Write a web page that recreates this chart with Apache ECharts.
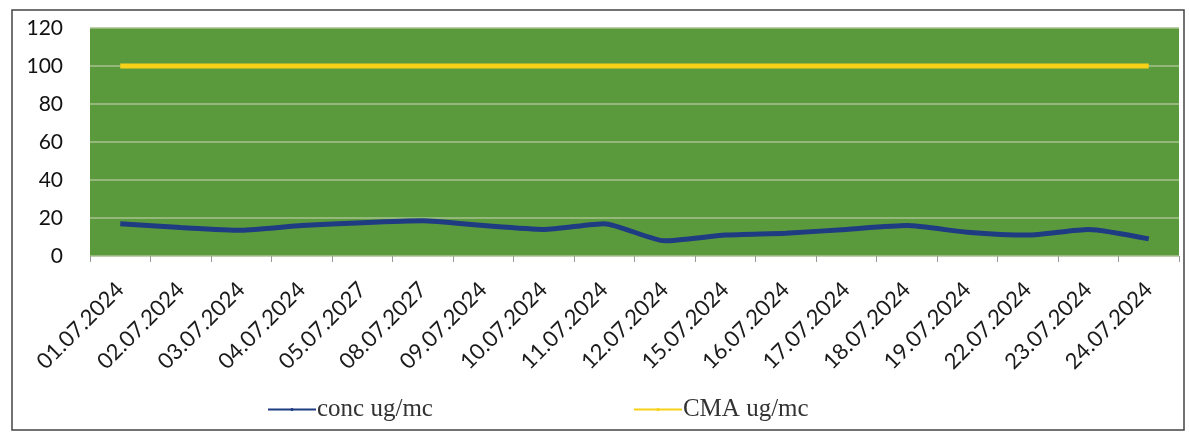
<!DOCTYPE html>
<html>
<head>
<meta charset="utf-8">
<script src="https://cdn.jsdelivr.net/npm/echarts@6/dist/echarts.min.js"></script>
<style>
html, body { margin: 0; padding: 0; background: #fff; }
#main { width: 1189px; height: 436px; }
</style>
</head>
<body>
<div id="main"></div>
<script>
var dates = ['01.07.2024', '02.07.2024', '03.07.2024', '04.07.2024', '05.07.2027', '08.07.2027',
    '09.07.2024', '10.07.2024', '11.07.2024', '12.07.2024', '15.07.2024', '16.07.2024',
    '17.07.2024', '18.07.2024', '19.07.2024', '22.07.2024', '23.07.2024', '24.07.2024'];
var conc = [17, 15, 13.5, 16, 17.5, 18.5, 16, 14, 17, 8, 11, 12, 14, 16, 12.5, 11, 14, 9];
var cma = [100, 100, 100, 100, 100, 100, 100, 100, 100, 100, 100, 100, 100, 100, 100, 100, 100, 100];
var yTicks = [0, 20, 40, 60, 80, 100, 120];

var mainEchart = echarts.init(document.getElementById('main'));
var option = {
    animation: false,
    backgroundColor: '#fff',
    graphic: [{
        type: 'rect',
        shape: { x: 12, y: 10, width: 1172, height: 420 },
        style: { fill: 'none', stroke: '#444', lineWidth: 1.5 },
        z: -1
    }],
    grid: {
        left: 90, right: 10, top: 28, bottom: 180,
        show: true, backgroundColor: '#5b9a3c', borderWidth: 0
    },
    legend: {
        top: 392, left: 262, itemGap: 200,
        itemWidth: 48, itemHeight: 4,
        textStyle: { fontFamily: 'Liberation Serif', fontSize: 25, color: '#333', padding: [0, 0, 0, -4] },
        data: ['conc ug/mc', 'CMA ug/mc']
    },
    xAxis: {
        type: 'category',
        data: dates,
        boundaryGap: true,
        axisLine: { show: false },
        axisTick: { show: true, length: 6, lineStyle: { color: '#999' } },
        axisLabel: {
            rotate: 45, interval: 0, margin: 30,
            fontFamily: 'Lato', fontSize: 22, color: '#1a1a1a'
        }
    },
    yAxis: {
        type: 'value',
        min: yTicks[0], max: yTicks[yTicks.length - 1], interval: 20,
        axisLine: { show: false },
        axisTick: { show: false },
        axisLabel: { fontFamily: 'Lato', fontSize: 21, color: '#111', margin: 27 },
        splitLine: { lineStyle: { color: '#a7c08f', width: 1.5 } }
    },
    series: [{
        name: 'conc ug/mc',
        type: 'line',
        data: conc,
        symbol: 'none',
        smooth: 0.2,
        lineStyle: { color: '#1f3b82', width: 5 },
        itemStyle: { color: '#1f3b82' }
    }, {
        name: 'CMA ug/mc',
        type: 'line',
        data: cma,
        symbol: 'none',
        lineStyle: { color: '#f7d117', width: 5 },
        itemStyle: { color: '#f7d117' }
    }]
};
mainEchart.setOption(option, true);
</script>
</body>
</html>
